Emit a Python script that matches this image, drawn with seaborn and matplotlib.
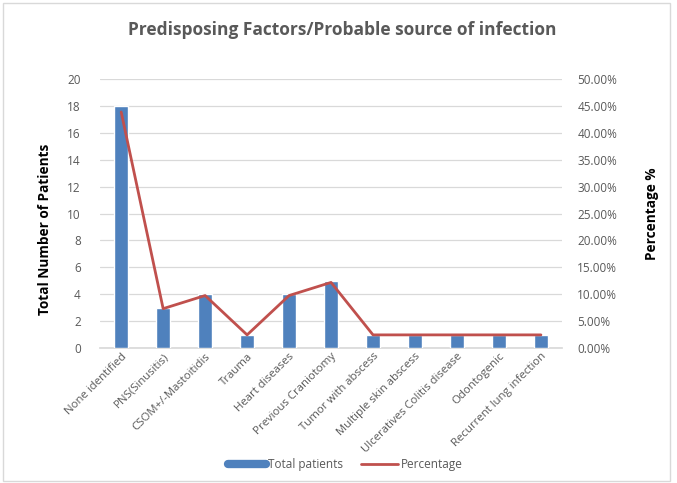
import matplotlib
matplotlib.use("Agg")
import matplotlib.pyplot as plt
from matplotlib.patches import Rectangle
from matplotlib.lines import Line2D
from matplotlib.ticker import FuncFormatter, MultipleLocator
import numpy as np
import pandas as pd
import seaborn as sns

categories = [
    "None identified", "PNS(Sinusitis)", "CSOM+/-Mastoitidis", "Trauma",
    "Heart diseases", "Previous Craniotomy", "Tumor with abscess",
    "Multiple skin abscess", "Ulceratives Colitis disease", "Odontogenic",
    "Recurrent lung infection",
]
total_patients = [18, 3, 4, 1, 4, 5, 1, 1, 1, 1, 1]
percentage = [43.90, 7.32, 9.76, 2.44, 9.76, 12.20, 2.44, 2.44, 2.44, 2.44, 2.44]

sns.set_theme(style="white")
plt.rcParams["font.family"] = ["Open Sans", "DejaVu Sans"]

BLUE = "#4F81BD"
RED = "#C0504D"
GREY = "#595959"
GRID = "#D9D9D9"

df = pd.DataFrame({"factor": categories, "patients": total_patients,
                   "pos": np.arange(len(categories)), "pct": percentage})

fig = plt.figure(figsize=(6.77, 4.83), dpi=100)
fig.patches.append(Rectangle((0.004, 0.004), 0.985, 0.99, transform=fig.transFigure,
                             fill=False, edgecolor=GRID, linewidth=1.0))
ax = fig.add_axes([0.148, 0.2795, 0.682, 0.5565])

sns.barplot(data=df, x="factor", y="patients", color=BLUE, width=0.32,
            saturation=1, ax=ax, zorder=3)
ax.set_ylim(0, 20)
ax.yaxis.set_major_locator(MultipleLocator(2))
ax.set_xlim(-0.5, len(categories) - 0.5)
ax.grid(axis="y", color=GRID, linewidth=0.9, zorder=0)
ax.set_axisbelow(True)
for s in ["top", "right", "left"]:
    ax.spines[s].set_visible(False)
ax.spines["bottom"].set_color(GRID)
ax.tick_params(axis="y", colors=GREY, labelsize=8.5, length=0, pad=14)
ax.tick_params(axis="x", colors=GREY, labelsize=8.2, length=0, pad=2)
ax.set_xticks(range(len(categories)))
ax.set_xticklabels(categories, rotation=45, ha="right", rotation_mode="anchor")
ax.set_xlabel("")
ax.set_ylabel("Total Number of Patients", fontsize=9.8, fontweight="bold",
              color="black")
ax.yaxis.set_label_coords(-0.105, 0.44)

ax2 = ax.twinx()
sns.lineplot(data=df, x="pos", y="pct", color=RED, linewidth=2, sort=False,
             ax=ax2, zorder=4)
ax2.set_ylim(0, 50)
ax2.yaxis.set_major_locator(MultipleLocator(5))
ax2.yaxis.set_major_formatter(FuncFormatter(lambda v, _: f"{v:.2f}%"))
for s in ["top", "right", "left", "bottom"]:
    ax2.spines[s].set_visible(False)
ax2.tick_params(axis="y", colors=GREY, labelsize=8.5, length=0, pad=11)
ax2.set_ylabel("Percentage %", fontsize=9.8, fontweight="bold", color="black",
               rotation=90, labelpad=20)
ax2.set_xlabel("")

fig.text(0.505, 0.938, "Predisposing Factors/Probable source of infection",
         ha="center", va="center", fontsize=12.5, fontweight="bold", color=GREY)

handles = [Line2D([0], [0], color=BLUE, linewidth=6),
           Line2D([0], [0], color=RED, linewidth=2)]
fig.legend(handles, ["Total patients", "Percentage"], loc="center",
           bbox_to_anchor=(0.51, 0.038), ncol=2, frameon=False, fontsize=8.5,
           handlelength=3.2, handletextpad=0.2, columnspacing=1.5,
           labelcolor=GREY)

fig.savefig("out.png", dpi=100)
